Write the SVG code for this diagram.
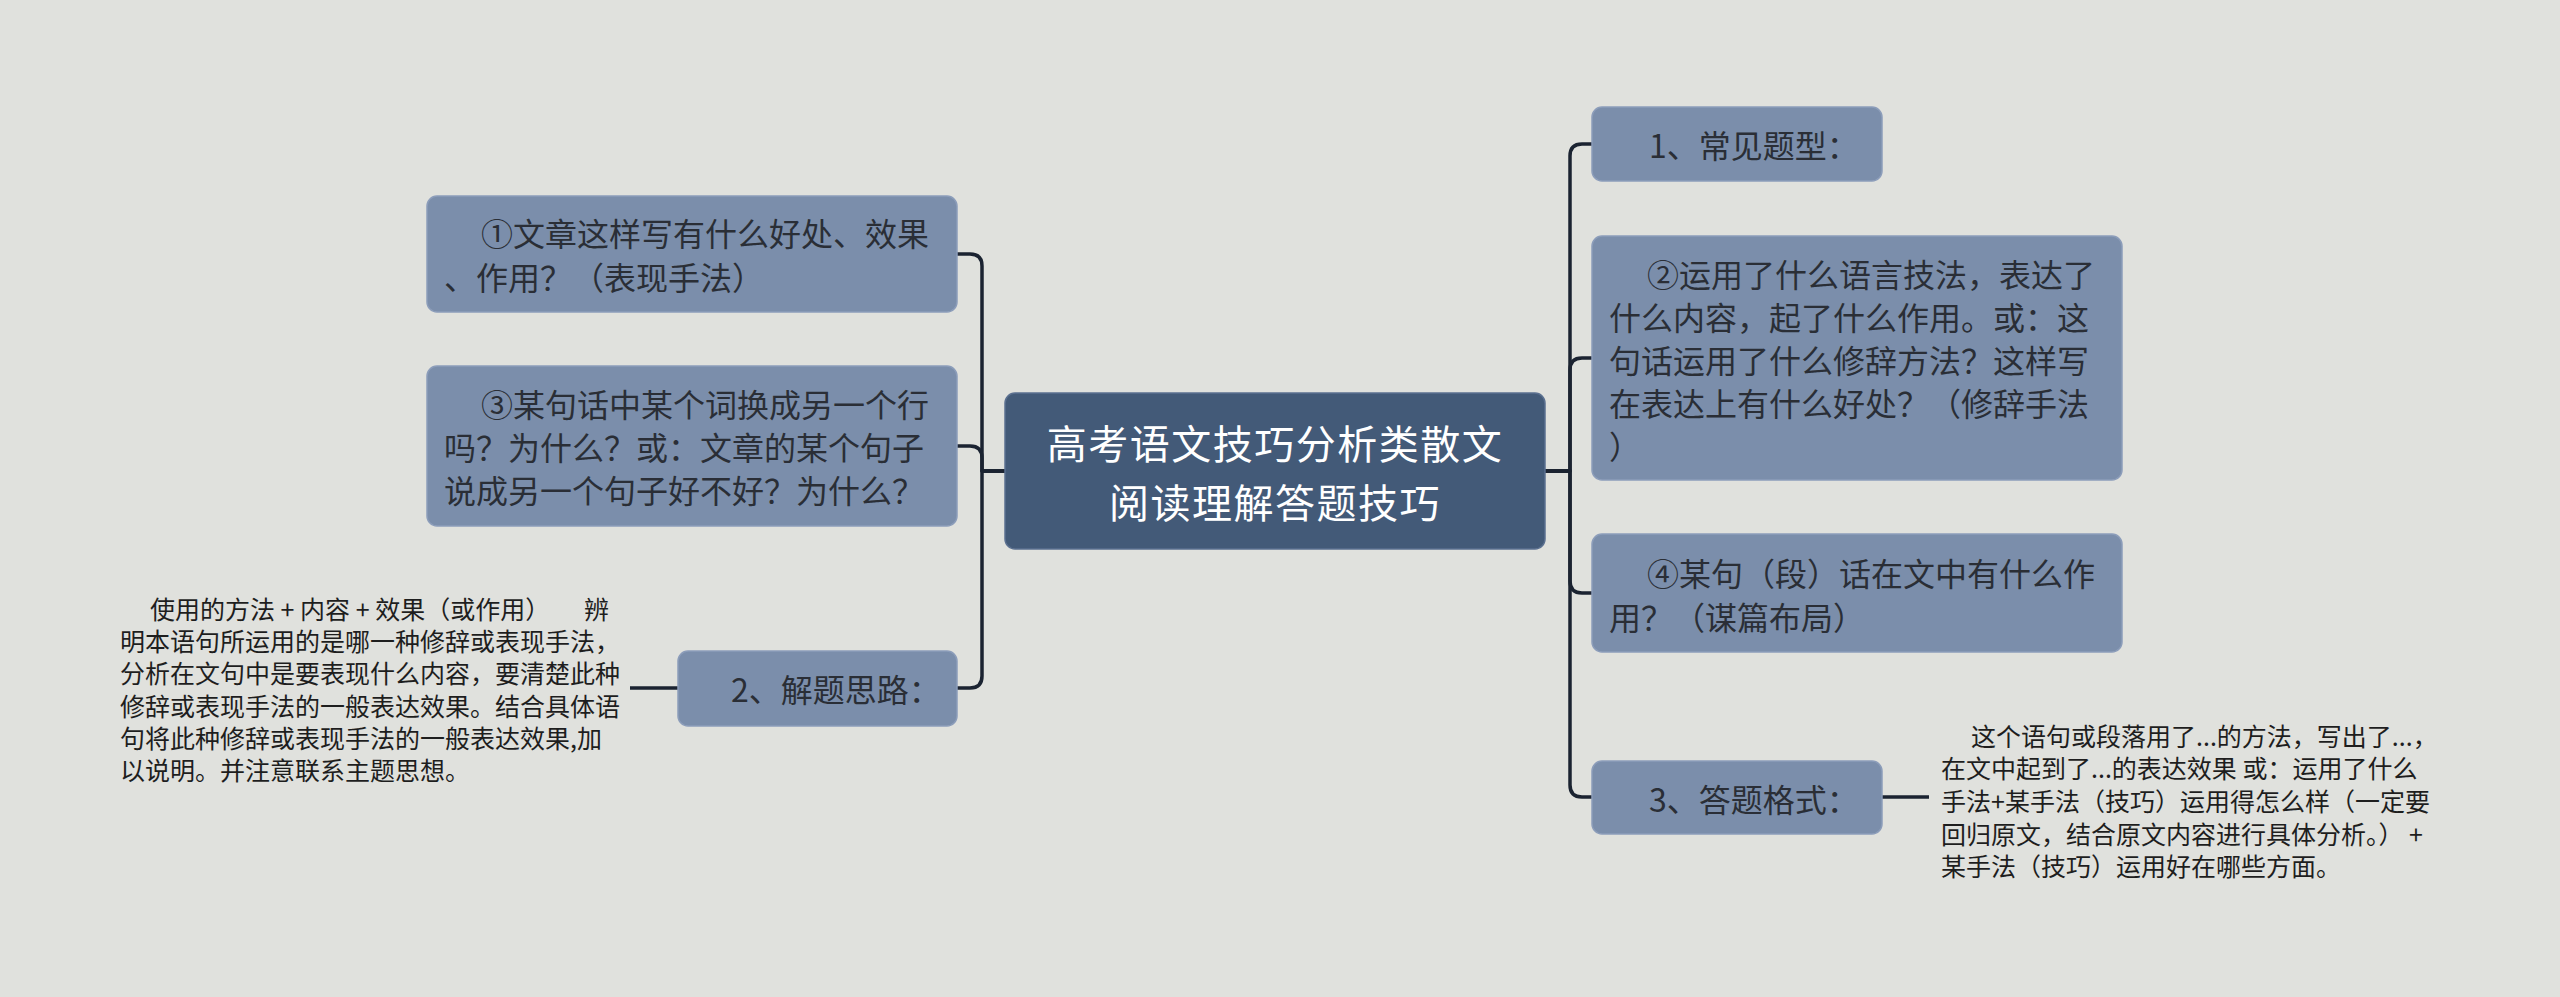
<svg xmlns="http://www.w3.org/2000/svg" width="2560" height="997" viewBox="0 0 2560 997">
  <style>
    text { font-family: "Noto Sans CJK SC", "Noto Sans", "Liberation Sans", sans-serif; dominant-baseline: central; }
    .root { fill: #435a78; stroke: #5b7090; stroke-width: 1.5; }
    .node { fill: #7b8eab; stroke: #8c9dba; stroke-width: 1.5; }
    .rt { fill: #ffffff; font-size: 40px; text-anchor: middle; letter-spacing: 1.5px; }
    .nt { fill: #2a2e36; font-size: 32px; }
    .ft { fill: #1e1e1e; font-size: 25px; }
    .conn { fill: none; stroke: #1b2331; stroke-width: 3.5; stroke-linejoin: round; }
  </style>
  <rect width="2560" height="997" fill="#e0e1dd"/>

  <g id="connectors">
    <path class="conn" d="M1005,471 H982 V266 Q982,254 970,254 H957"/>
    <path class="conn" d="M1005,471 H982 V458 Q982,446 970,446 H957"/>
    <path class="conn" d="M1005,471 H982 V676 Q982,688 970,688 H957"/>
    <path class="conn" d="M630,688 H678"/>
    <path class="conn" d="M1545,471 H1570 V156 Q1570,144 1582,144 H1592"/>
    <path class="conn" d="M1545,471 H1570 V370 Q1570,358 1582,358 H1592"/>
    <path class="conn" d="M1545,471 H1570 V581 Q1570,593 1582,593 H1592"/>
    <path class="conn" d="M1545,471 H1570 V785 Q1570,797 1582,797 H1592"/>
    <path class="conn" d="M1882,797 H1929"/>
  </g>

  <g id="root">
    <rect class="root" x="1005" y="393" width="540" height="156" rx="10"/>
    <text class="rt" x="1275" y="442">高考语文技巧分析类散文</text>
    <text class="rt" x="1275" y="501">阅读理解答题技巧</text>
  </g>

  <g id="node-l1">
    <rect class="node" x="427" y="196" width="530" height="116" rx="10"/>
    <text class="nt" x="481" y="232">①文章这样写有什么好处、效果</text>
    <text class="nt" x="444" y="276">、作用？（表现手法）</text>
  </g>

  <g id="node-l3">
    <rect class="node" x="427" y="366" width="530" height="160" rx="10"/>
    <text class="nt" x="481" y="403">③某句话中某个词换成另一个行</text>
    <text class="nt" x="444" y="446">吗？为什么？或：文章的某个句子</text>
    <text class="nt" x="444" y="489">说成另一个句子好不好？为什么？</text>
  </g>

  <g id="node-l2">
    <rect class="node" x="678" y="651" width="279" height="75" rx="10"/>
    <text class="nt" x="731" y="688">2、解题思路：</text>
  </g>

  <g id="text-l2">
    <text class="ft" x="150" y="608">使用的方法 + 内容 + 效果（或作用）</text>
    <text class="ft" x="584" y="608">辨</text>
    <text class="ft" x="120" y="640">明本语句所运用的是哪一种修辞或表现手法，</text>
    <text class="ft" x="120" y="672">分析在文句中是要表现什么内容，要清楚此种</text>
    <text class="ft" x="120" y="705">修辞或表现手法的一般表达效果。结合具体语</text>
    <text class="ft" x="120" y="737">句将此种修辞或表现手法的一般表达效果,加</text>
    <text class="ft" x="120" y="769">以说明。并注意联系主题思想。</text>
  </g>

  <g id="node-r1">
    <rect class="node" x="1592" y="107" width="290" height="74" rx="10"/>
    <text class="nt" x="1649" y="144">1、常见题型：</text>
  </g>

  <g id="node-r2">
    <rect class="node" x="1592" y="236" width="530" height="244" rx="10"/>
    <text class="nt" x="1647" y="273">②运用了什么语言技法，表达了</text>
    <text class="nt" x="1609" y="316">什么内容，起了什么作用。或：这</text>
    <text class="nt" x="1609" y="359">句话运用了什么修辞方法？这样写</text>
    <text class="nt" x="1609" y="402">在表达上有什么好处？（修辞手法</text>
    <text class="nt" x="1609" y="445">）</text>
  </g>

  <g id="node-r4">
    <rect class="node" x="1592" y="534" width="530" height="118" rx="10"/>
    <text class="nt" x="1647" y="572">④某句（段）话在文中有什么作</text>
    <text class="nt" x="1609" y="616">用？（谋篇布局）</text>
  </g>

  <g id="node-r3">
    <rect class="node" x="1592" y="761" width="290" height="73" rx="10"/>
    <text class="nt" x="1649" y="798">3、答题格式：</text>
  </g>

  <g id="text-r3">
    <text class="ft" x="1971" y="735">这个语句或段落用了...的方法，写出了...，</text>
    <text class="ft" x="1941" y="767">在文中起到了...的表达效果 或：运用了什么</text>
    <text class="ft" x="1941" y="800">手法+某手法（技巧）运用得怎么样（一定要</text>
    <text class="ft" x="1941" y="833" xml:space="preserve">回归原文，结合原文内容进行具体分析。） +</text>
    <text class="ft" x="1941" y="865">某手法（技巧）运用好在哪些方面。</text>
  </g>
</svg>
